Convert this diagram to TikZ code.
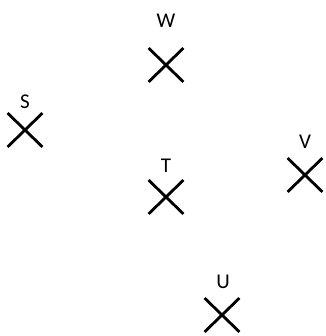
\documentclass[tikz,border=0pt]{standalone}
\usepackage{fontspec}
\setmainfont{Carlito}
\usepackage{tikz}
\usetikzlibrary{shapes.misc}

\begin{document}
\begin{tikzpicture}[x=1pt,y=1pt,
  xmark/.style={cross out,draw,line width=2.8pt,inner sep=0pt,minimum width=32pt,minimum height=31pt},
  lbl/.style={font=\fontsize{21}{24}\selectfont,inner sep=0pt}]
\useasboundingbox (0,0) rectangle (325,336);
\node[xmark](w) at (166,271){};
\node[xmark](s) at (25,206){};
\node[xmark](t) at (166,139){};
\node[xmark](v) at (305,161){};
\node[xmark](u) at (222,21){};
\node[lbl](wl) at (166,315){W};
\node[lbl](sl) at (25,234){S};
\node[lbl](tl) at (166,170){T};
\node[lbl](vl) at (305,194){V};
\node[lbl](ul) at (223,54){U};
\end{tikzpicture}
\end{document}
